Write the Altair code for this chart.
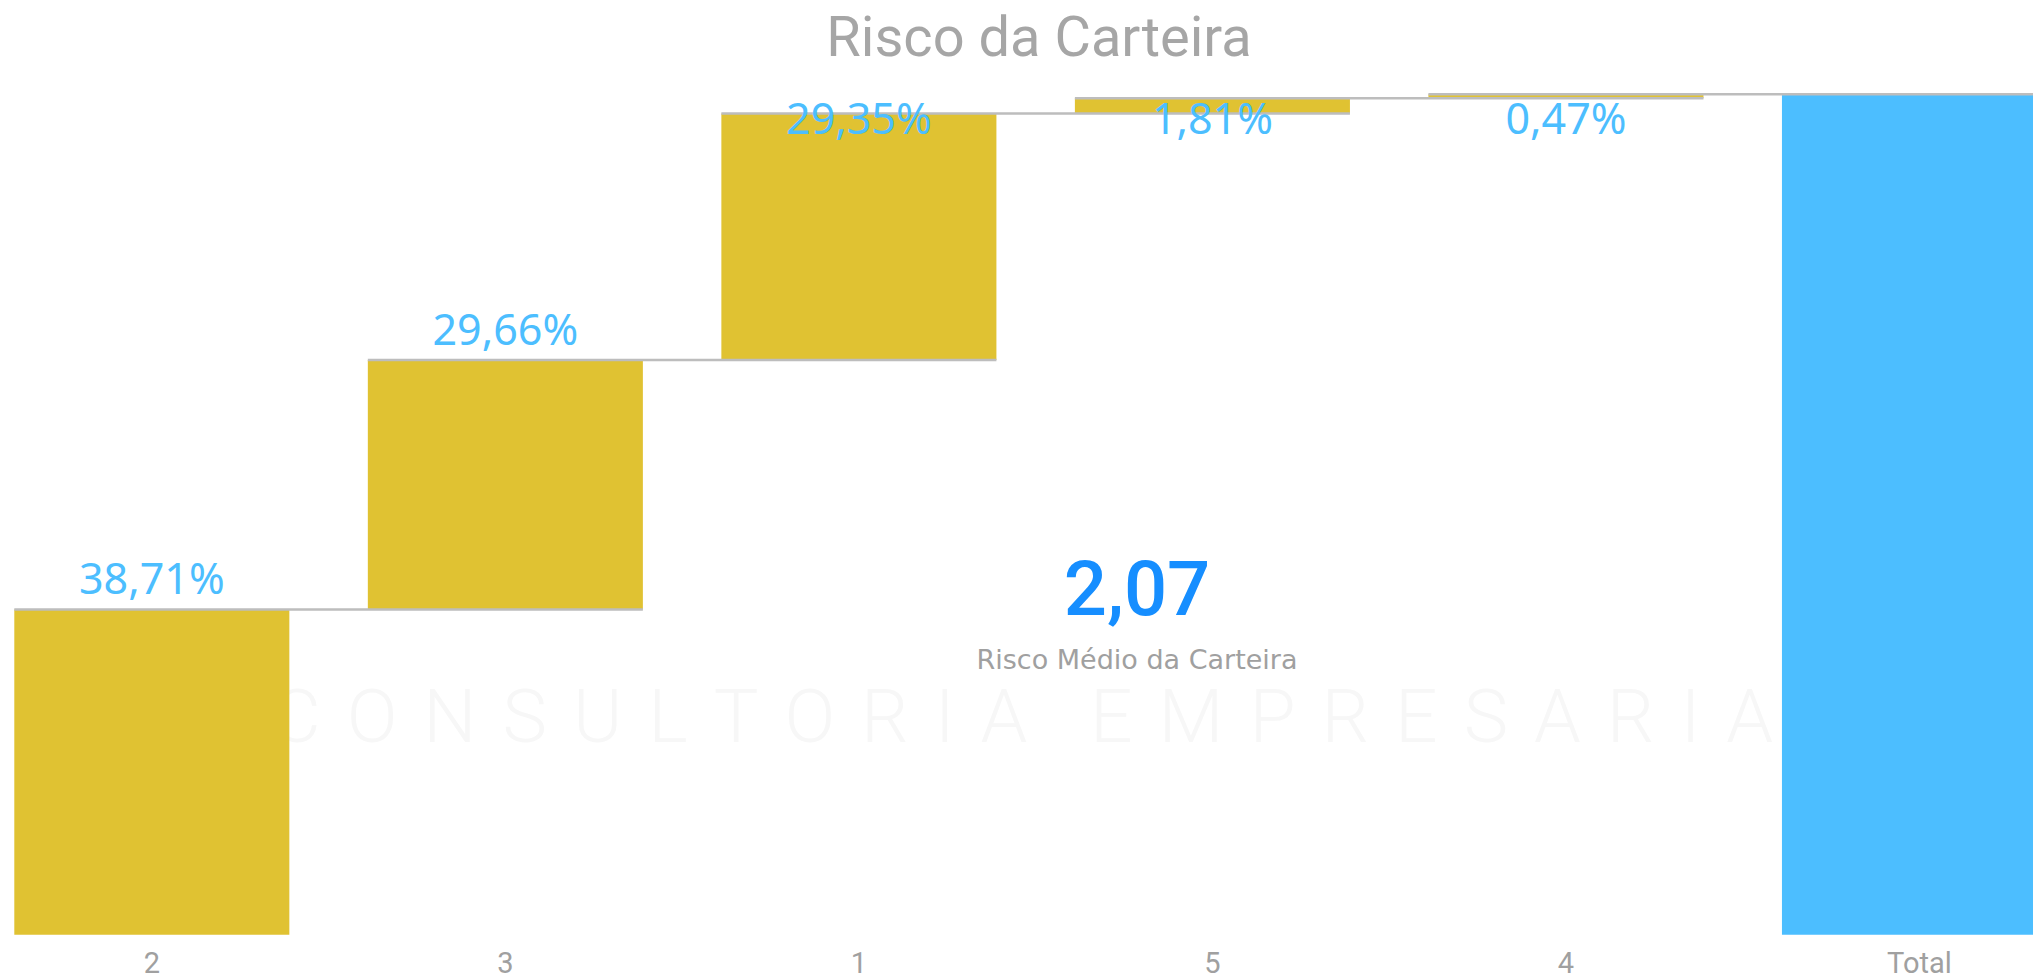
import altair as alt
import pandas as pd

# ---- data ----
categories = ["2", "3", "1", "5", "4"]
values = [38.71, 29.66, 29.35, 1.81, 0.47]
total_label = "Total"
chart_title = "Risco da Carteira"
kpi_value = "2,07"
kpi_caption = "Risco Médio da Carteira"
watermark_words = ["CONSULTORIA", "EMPRESARIAL"]

# ---- waterfall table ----
rows = []
cum = 0.0
for c, v in zip(categories, values):
    rows.append(dict(cat=c, start=cum, end=cum + v, kind="step",
                     label=f"{v:.2f}".replace(".", ",") + "%"))
    cum += v
rows.append(dict(cat=total_label, start=0.0, end=cum, kind="total", label=""))
bars_df = pd.DataFrame(rows)
order = categories + [total_label]
conn_df = pd.DataFrame({"cat": order[:-1], "next": order[1:],
                        "level": list(bars_df["end"][:-1])})

LS = "\u00a0\u200a"   # letter spacing for the faint watermark
watermark_text = ("\u00a0\u00a0\u00a0\u200a").join(LS.join(w) for w in watermark_words)

W, H = 2025, 971
Y0, Y100 = 926.7, 86.3
xs = alt.Scale(domain=order, range=[6.3, 2049], paddingInner=0.222, paddingOuter=0)
ys = alt.Scale(domain=[0, 100], range=[Y0, Y100], nice=False, zero=False)
xaxis = alt.Axis(title=None, labelAngle=0, domain=False, ticks=False, grid=False,
                 labelFontSize=29, labelColor="#A0A0A0", labelFont="Roboto",
                 labelPadding=15, offset=-(H - Y0))

YELLOW = "#E0C232"
BLUE = "#4CBEFF"

one = pd.DataFrame({"t": [0]})

watermark = alt.Chart(one).mark_text(
    text=watermark_text, font="Roboto", fontSize=75, fontWeight=300, color="#F7F7F7",
    align="left", baseline="alphabetic"
).encode(x=alt.value(264), y=alt.value(734))

title = alt.Chart(one).mark_text(
    text=chart_title, font="Roboto", fontSize=56, color="#A6A6A6",
    align="center", baseline="alphabetic"
).encode(x=alt.value(1031), y=alt.value(48))

bars = alt.Chart(bars_df).mark_bar().encode(
    x=alt.X("cat:N", scale=xs, axis=xaxis, sort=order),
    y=alt.Y("start:Q", scale=ys, axis=None),
    y2="end:Q",
    color=alt.Color("kind:N", scale=alt.Scale(domain=["step", "total"], range=[YELLOW, BLUE]),
                    legend=None),
)

connectors = alt.Chart(conn_df).mark_rule(color="#BDBDBD", strokeWidth=2.5).encode(
    x=alt.X("cat:N", scale=xs, axis=xaxis, sort=order, bandPosition=0),
    x2=alt.X2("next:N", bandPosition=1),
    y=alt.Y("level:Q", scale=ys, axis=None),
)

labels = alt.Chart(bars_df).transform_filter(
    alt.datum.kind == "step"
).transform_calculate(
    lab_y="min(datum.end, 93.5)"
).mark_text(
    font="Noto Sans", fontSize=43, color=BLUE, baseline="alphabetic", dy=-15
).encode(
    x=alt.X("cat:N", scale=xs, axis=xaxis, sort=order),
    y=alt.Y("lab_y:Q", scale=ys, axis=None),
    text="label:N",
)

kpi = alt.Chart(one).mark_text(
    text=kpi_value, font="Roboto", fontSize=76, fontWeight=500, color="#168EFF",
    align="center", baseline="alphabetic"
).encode(x=alt.value(1129), y=alt.value(607))

caption = alt.Chart(one).mark_text(
    text=kpi_caption, font="DejaVu Sans", fontSize=27, color="#A0A0A0",
    align="center", baseline="alphabetic"
).encode(x=alt.value(1129), y=alt.value(661))

chart = alt.layer(watermark, title, bars, connectors, labels, kpi, caption).properties(
    width=W, height=H,
    autosize=alt.AutoSizeParams(type="none"),
    padding=0,
    background="white",
).configure_view(stroke=None)

chart.save("out.html", embed_options={"renderer": "svg", "actions": False})
